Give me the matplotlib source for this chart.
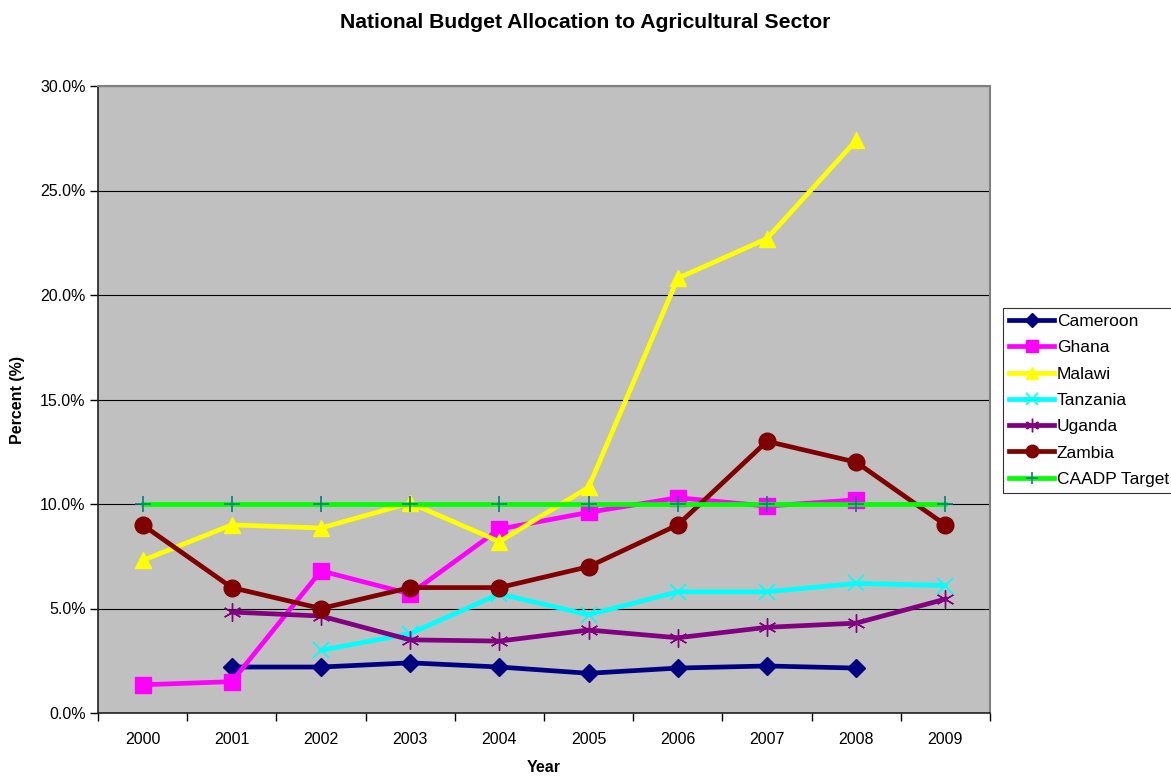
import matplotlib
matplotlib.use("Agg")
import matplotlib.pyplot as plt
from matplotlib.ticker import FuncFormatter, MultipleLocator, FixedLocator
import numpy as np

plt.rcParams['font.family'] = ['Liberation Sans', 'DejaVu Sans']

years = ['2000', '2001', '2002', '2003', '2004', '2005', '2006', '2007', '2008', '2009']

nan = np.nan
cameroon = [nan, 2.2, 2.2, 2.4, 2.2, 1.9, 2.15, 2.25, 2.15, nan]
ghana = [1.35, 1.5, 6.8, 5.7, 8.8, 9.6, 10.3, 9.9, 10.2, nan]
malawi = [7.3, 9.0, 8.85, 10.05, 8.2, 10.8, 20.8, 22.7, 27.4, nan]
tanzania = [nan, nan, 3.0, 3.8, 5.7, 4.7, 5.8, 5.8, 6.2, 6.1]
uganda = [nan, 4.83, 4.64, 3.5, 3.44, 3.97, 3.6, 4.1, 4.3, 5.45]
zambia = [9.0, 6.0, 5.0, 6.0, 6.0, 7.0, 9.0, 13.0, 12.0, 9.0]
caadp = [10.0] * 10

series = [
    ('Cameroon', cameroon, dict(color='#000080', marker='D', ms=9, mfc='#000080', mec='#000080')),
    ('Ghana', ghana, dict(color='#FF00FF', marker='s', ms=11, mfc='#FF00FF', mec='#FF00FF')),
    ('Malawi', malawi, dict(color='#FFFF00', marker='^', ms=12, mfc='#FFFF00', mec='#FFFF00')),
    ('Tanzania', tanzania, dict(color='#00FFFF', marker='x', ms=11, mfc='#00FFFF', mec='#00FFFF', mew=1.2)),
    ('Uganda', uganda, dict(color='#800080', marker=(6, 2, 0), ms=13, mfc='#800080', mec='#800080', mew=1.0)),
    ('Zambia', zambia, dict(color='#800000', marker='o', ms=12, mfc='#800000', mec='#800000')),
    ('CAADP Target', caadp, dict(color='#00FF00', marker='+', ms=12, mfc='#008080', mec='#008080', mew=1.2)),
]

fig = plt.figure(figsize=(11.71, 7.76), dpi=100)
ax = fig.add_axes([98 / 1171, 63 / 776, 892 / 1171, 627 / 776])
ax.set_facecolor('#C0C0C0')

x = np.arange(len(years))
for i, (name, vals, style) in enumerate(series):
    ax.plot(x, vals, lw=3.4, label=name, zorder=3 + i, **style)

ax.set_xlim(-0.5, len(years) - 0.5)
ax.set_ylim(0, 30)
ax.yaxis.set_major_locator(MultipleLocator(5))
ax.yaxis.set_major_formatter(FuncFormatter(lambda v, p: f'{v:.1f}%'))
ax.grid(axis='y', color='black', lw=0.8, zorder=1)
ax.set_axisbelow(True)

ax.xaxis.set_major_locator(FixedLocator(np.arange(-0.5, len(years), 1.0)))
ax.xaxis.set_major_formatter(FuncFormatter(lambda v, p: ''))
ax.set_xticks(x, minor=True)
ax.set_xticklabels(years, minor=True)
ax.tick_params(axis='x', which='minor', length=0, pad=14, labelsize=11.5)
ax.tick_params(axis='x', which='major', length=6, direction='out', width=1)
ax.tick_params(axis='y', length=6, direction='out', width=1, labelsize=11.5, pad=3)

for side in ('top', 'right'):
    ax.spines[side].set_color('#808080')
    ax.spines[side].set_linewidth(1.5)
for side in ('left', 'bottom'):
    ax.spines[side].set_color('#202020')
    ax.spines[side].set_linewidth(1.2)

ax.set_xlabel('Year', fontsize=11.5, fontweight='bold')
ax.xaxis.set_label_coords(0.5, (713 - 768) / 627, transform=ax.transAxes)
ax.xaxis.label.set_va('center')
ax.set_ylabel('Percent (%)', fontsize=11.5, fontweight='bold')
ax.yaxis.set_label_coords((18 - 98) / 892, 0.5, transform=ax.transAxes)
ax.yaxis.label.set_va('center')
fig.text(585 / 1171, 1 - 22 / 776, 'National Budget Allocation to Agricultural Sector',
         ha='center', va='center', fontsize=15.2, fontweight='bold')

leg = fig.legend(loc='upper left', bbox_to_anchor=(1003 / 1171, 1 - 308 / 776),
                 fontsize=12.5, frameon=True, fancybox=False, edgecolor='black',
                 handlelength=2.6, handletextpad=0.15, labelspacing=0.64,
                 borderpad=0.35, borderaxespad=0, markerscale=0.75)
leg.get_frame().set_linewidth(0.8)

fig.savefig('out.png', dpi=100, facecolor='white')
